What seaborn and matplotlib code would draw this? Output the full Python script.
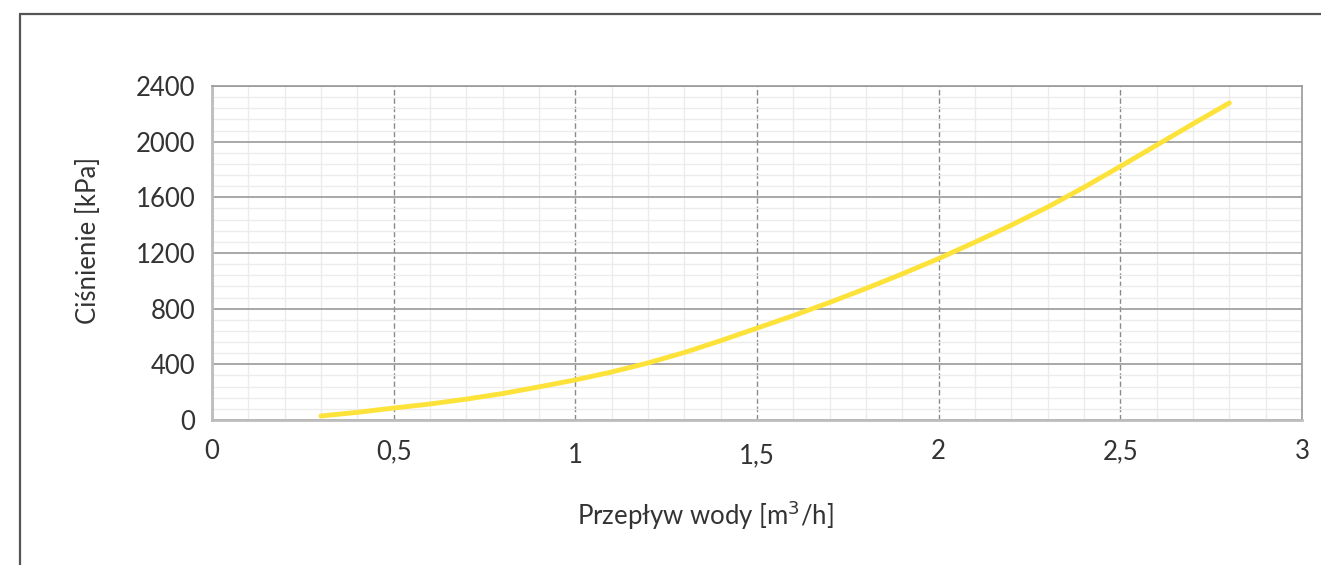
import matplotlib
matplotlib.use("Agg")
import matplotlib.pyplot as plt
import seaborn as sns
import pandas as pd
from matplotlib.ticker import MultipleLocator, FixedLocator
from matplotlib.patches import Rectangle

# Data
flow = [0.30, 0.40, 0.50, 0.60, 0.70, 0.80, 0.90, 1.00, 1.10, 1.20, 1.30, 1.40, 1.50,
        1.60, 1.70, 1.80, 1.90, 2.00, 2.10, 2.20, 2.30, 2.40, 2.50, 2.60, 2.70, 2.80]
pressure = [29, 55, 86, 115, 150, 190, 238, 288, 345, 410, 485, 570, 660,
            750, 845, 945, 1050, 1160, 1278, 1400, 1530, 1672, 1822, 1975, 2128, 2278]

x_ticks = [0, 0.5, 1, 1.5, 2, 2.5, 3]
x_tick_labels = ["0", "0,5", "1", "1,5", "2", "2,5", "3"]
y_ticks = [0, 400, 800, 1200, 1600, 2000, 2400]
y_tick_labels = ["0", "400", "800", "1200", "1600", "2000", "2400"]

df = pd.DataFrame({"flow": flow, "pressure": pressure})

sns.set_style("white")
plt.rcParams["font.family"] = ["Lato", "DejaVu Sans"]

fig = plt.figure(figsize=(13.21, 5.65), dpi=100)
ax = fig.add_axes([212 / 1321, 1 - 420 / 565, (1302 - 212) / 1321, (420 - 86) / 565])

# outer frame
fig.patches.append(Rectangle((20 / 1321, -0.1), 1.2, 1 - 14 / 565 + 0.1,
                             transform=fig.transFigure, fill=False,
                             edgecolor="#555555", linewidth=1.6, zorder=0))

sns.lineplot(data=df, x="flow", y="pressure", ax=ax, color="#FDE23A",
             linewidth=3.5, solid_capstyle="round", zorder=5)

ax.set_xlim(0, 3)
ax.set_ylim(0, 2400)
ax.xaxis.set_major_locator(FixedLocator(x_ticks))
ax.set_xticklabels(x_tick_labels)
ax.yaxis.set_major_locator(FixedLocator(y_ticks))
ax.set_yticklabels(y_tick_labels)
ax.xaxis.set_minor_locator(MultipleLocator(0.1))
ax.yaxis.set_minor_locator(MultipleLocator(80))

ax.grid(which="minor", axis="both", color="#ececec", linewidth=1.0)
ax.grid(which="major", axis="y", color="#9a9a9a", linewidth=1.2)
ax.grid(which="major", axis="x", color="#8a8a8a", linewidth=1.0, linestyle=(0, (4, 2)))
ax.set_axisbelow(True)

ax.tick_params(which="both", length=0)
ax.tick_params(axis="x", pad=14, labelsize=18.5, labelcolor="#333333")
ax.tick_params(axis="y", pad=12, labelsize=18.5, labelcolor="#333333")
for lbl in ax.get_xticklabels():
    if lbl.get_text() in ("1", "1,5"):
        lbl.set_y(-0.012)

for s in ["top", "right"]:
    ax.spines[s].set_color("#9a9a9a")
    ax.spines[s].set_linewidth(1.2)
for s in ["left", "bottom"]:
    ax.spines[s].set_color("#bdbdbd")
    ax.spines[s].set_linewidth(2.0)

ax.set_xlabel("Przepływ wody [m$^3$/h]", fontsize=18.5, color="#333333", labelpad=30)
ax.xaxis.set_label_coords((705 - 212) / 1090, -(515 - 420) / 334)
ax.xaxis.label.set_va("center")
ax.set_ylabel("Ciśnienie [kPa]", fontsize=18.5, color="#333333")
ax.yaxis.set_label_coords(-(212 - 88) / 1090, (420 - 240) / 334)
ax.yaxis.label.set_va("center")

fig.savefig("out.png", dpi=100, facecolor="white")
